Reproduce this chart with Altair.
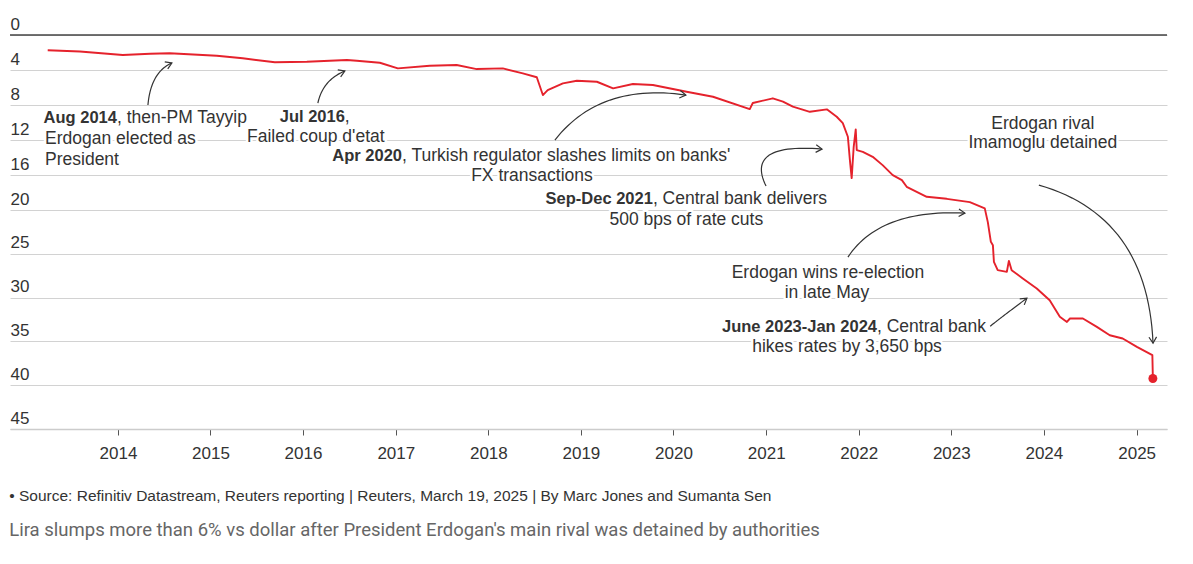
import math
import altair as alt
import pandas as pd

# ---------------- data (lira per US dollar) ----------------
dates = [
    "2013-03-30", "2013-08-04", "2014-01-20", "2014-05-08", "2014-07-24",
    "2015-01-26", "2015-05-08", "2015-09-12", "2016-01-16", "2016-06-22",
    "2016-07-31", "2016-10-30", "2017-01-09", "2017-05-15", "2017-08-29",
    "2017-11-16", "2018-02-27", "2018-05-17", "2018-07-11", "2018-08-04",
    "2018-08-23", "2018-10-22", "2018-12-16", "2019-03-05", "2019-05-08",
    "2019-07-25", "2019-10-12", "2020-02-22", "2020-06-05", "2020-10-28",
    "2020-11-09", "2021-01-27", "2021-03-08", "2021-04-16", "2021-06-22",
    "2021-08-28", "2021-10-06", "2021-10-30", "2021-11-19", "2021-11-27",
    "2021-12-04", "2021-12-12", "2021-12-20", "2021-12-24", "2022-01-17",
    "2022-02-25", "2022-04-05", "2022-05-15", "2022-06-20", "2022-07-09",
    "2022-09-26", "2022-12-14", "2023-03-15", "2023-05-13", "2023-05-25",
    "2023-06-06", "2023-06-14", "2023-06-18", "2023-07-03", "2023-08-08",
    "2023-08-16", "2023-08-27", "2023-10-10", "2023-12-04", "2024-01-24",
    "2024-03-04", "2024-04-01", "2024-04-13", "2024-06-03", "2024-07-28",
    "2024-09-17", "2024-11-07", "2025-01-02", "2025-03-04", "2025-03-06",
]
rates = [
    1.75, 1.89, 2.29, 2.14, 2.09,
    2.37, 2.66, 3.12, 3.05, 2.86,
    2.94, 3.17, 3.81, 3.51, 3.43,
    3.89, 3.81, 4.38, 4.83, 6.86,
    6.29, 5.52, 5.22, 5.34, 6.09,
    5.60, 5.71, 6.48, 7.05, 8.46,
    7.77, 7.23, 7.62, 8.19, 8.77,
    8.49, 9.34, 10.06, 11.62, 14.29,
    16.34, 12.77, 10.78, 13.14, 13.34,
    13.91, 14.86, 16.00, 16.57, 17.34,
    18.48, 18.71, 19.09, 19.80, 21.37,
    23.62, 24.00, 25.90, 26.86, 27.05,
    25.80, 26.86, 27.81, 28.95, 30.29,
    32.19, 32.77, 32.38, 32.38, 33.34,
    34.29, 34.66, 35.62, 36.57, 39.23,
]

y_ticks = [0, 4, 8, 12, 16, 20, 25, 30, 35, 40, 45]
x_years = list(range(2014, 2026))

source_text = ("• Source: Refinitiv Datastream, Reuters reporting | Reuters, "
               "March 19, 2025 | By Marc Jones and Sumanta Sen")
caption_text = ("Lira slumps more than 6% vs dollar after President Erdogan's "
                "main rival was detained by authorities")

# annotation anchors: (text, decimal year, value)
bold_right = [
    ("Aug 2014", 2013.989, 9.49),
    ("Jul 2016", 2016.451, 9.37),
    ("Apr 2020", 2017.067, 13.83),
    ("Sep-Dec 2021", 2019.778, 18.74),
    ("June 2023-Jan 2024", 2022.197, 33.37),
]
normal_left = [
    (", then-PM Tayyip", 2013.989, 9.49),
    ("Erdogan elected as", 2013.212, 11.89),
    ("President", 2013.212, 14.29),
    (",", 2016.451, 9.37),
    (", Turkish regulator slashes limits on banks'", 2017.067, 13.83),
    (", Central bank delivers", 2019.778, 18.74),
    (", Central bank", 2022.197, 33.37),
]
normal_center = [
    ("Failed coup d'etat", 2016.138, 11.66),
    ("FX transactions", 2018.471, 16.11),
    ("500 bps of rate cuts", 2020.139, 21.14),
    ("Erdogan wins re-election", 2021.667, 27.20),
    ("in late May", 2021.656, 29.49),
    ("hikes rates by 3,650 bps", 2021.873, 35.66),
    ("Erdogan rival", 2023.989, 10.17),
    ("Imamoglu detained", 2023.989, 12.34),
]
# curved arrows: start, control, end as (decimal year, value)
arrows = [
    ((2014.324, 8.00), (2014.356, 4.23), (2014.583, 3.20)),
    ((2016.160, 7.77), (2016.214, 5.14), (2016.451, 4.11)),
    ((2018.719, 12.00), (2019.205, 5.43), (2020.134, 6.86)),
    ((2020.998, 17.26), (2020.766, 12.29), (2021.603, 13.03)),
    ((2021.883, 25.37), (2022.223, 19.89), (2023.147, 20.34)),
    ((2023.420, 33.26), (2023.584, 31.89), (2023.817, 30.06)),
    ((2023.946, 17.14), (2025.118, 20.69), (2025.177, 35.20)),
]

# ---------------- layout ----------------
W, H = 1157, 394
X0, X1 = 2012.834, 2025.328
PX_YEAR = W / (X1 - X0)
PX_VAL = H / 45.0
FONT = "Liberation Sans"
RED = "#e5222c"
INK = "#333333"
ANN_SIZE = 17.5
BOLD_SIZE = 16.5


def dec_to_ts(y):
    yr = int(math.floor(y))
    a = pd.Timestamp(year=yr, month=1, day=1)
    b = pd.Timestamp(year=yr + 1, month=1, day=1)
    return a + (b - a) * (y - yr)


line_df = pd.DataFrame({"date": pd.to_datetime(dates), "value": rates})
last_df = line_df.tail(1)

x_scale = alt.Scale(domain=[dec_to_ts(X0).isoformat(), dec_to_ts(X1).isoformat()], nice=False)
y_scale = alt.Scale(domain=[0, 45], reverse=True, nice=False, zero=False)

x_axis = alt.Axis(
    values=[alt.DateTime(year=y, month=1, date=1) for y in x_years],
    format="%Y", title=None, grid=False, domain=True, domainColor="#cccccc",
    domainWidth=1.5, ticks=True, tickColor="#555555", tickSize=6, tickWidth=1,
    labelFont=FONT, labelFontSize=17, labelColor=INK, labelPadding=10,
    labelFlush=False,
)
y_axis = alt.Axis(
    values=y_ticks, title=None, grid=True, gridColor="#d2d2d2", gridWidth=1,
    domain=False, ticks=False, tickSize=0, labelAlign="left", labelPadding=0,
    labelBaseline="alphabetic", labelOffset=-6, labelFont=FONT, labelFontSize=17,
    labelColor=INK, labelFlush=False,
)

X = alt.X("date:T", scale=x_scale, axis=x_axis)
Y = alt.Y("value:Q", scale=y_scale, axis=y_axis)

line = alt.Chart(line_df).mark_line(color=RED, strokeWidth=1.9, strokeJoin="round").encode(x=X, y=Y)
dot = alt.Chart(last_df).mark_circle(color=RED, size=80, opacity=1).encode(x=X, y=Y)

zero_rule = alt.Chart(pd.DataFrame({"value": [0]})).mark_rule(
    color="#444444", strokeWidth=1.5).encode(y=Y)


def text_df(items):
    return pd.DataFrame({
        "text": [t for t, _, _ in items],
        "date": [dec_to_ts(x) for _, x, _ in items],
        "value": [v for _, _, v in items],
    })


text_layers = []
halo_layers = []
for items, align, weight, fsize in [
    (bold_right, "right", "bold", BOLD_SIZE),
    (normal_left, "left", "normal", ANN_SIZE),
    (normal_center, "center", "normal", ANN_SIZE),
]:
    df = text_df(items)
    common = dict(align=align, baseline="middle", font=FONT, fontSize=fsize, fontWeight=weight)
    halo_layers.append(
        alt.Chart(df).mark_text(fill="white", stroke="white", strokeWidth=5,
                                strokeJoin="round", **common)
        .encode(x=X, y=Y, text="text:N")
    )
    text_layers.append(
        alt.Chart(df).mark_text(fill=INK, **common)
        .encode(x=X, y=Y, text="text:N")
    )

# arrows
rows, heads = [], []
N = 30
for k, (p0, c, p1) in enumerate(arrows):
    for i in range(N + 1):
        t = i / N
        xx = (1 - t) ** 2 * p0[0] + 2 * (1 - t) * t * c[0] + t ** 2 * p1[0]
        vv = (1 - t) ** 2 * p0[1] + 2 * (1 - t) * t * c[1] + t ** 2 * p1[1]
        rows.append({"arrow": k, "i": i, "date": dec_to_ts(xx), "value": vv})
    dx = (p1[0] - c[0]) * PX_YEAR
    dy = (p1[1] - c[1]) * PX_VAL
    ang = math.degrees(math.atan2(dy, dx)) % 360
    heads.append({"date": dec_to_ts(p1[0]), "value": p1[1], "angle": ang})

arrow_df = pd.DataFrame(rows)
head_df = pd.DataFrame(heads)

arrow_lines = alt.Chart(arrow_df).mark_line(color=INK, strokeWidth=1.2).encode(
    x=X, y=Y, detail="arrow:N", order="i:Q")
arrow_heads = alt.Chart(head_df).mark_point(
    shape="M -1 -0.62 L 0 0 L -1 0.62", filled=False, stroke=INK,
    strokeWidth=1.2, size=150, opacity=1).encode(
    x=X, y=Y, angle=alt.Angle("angle:Q", scale=None))

chart = alt.layer(
    zero_rule, line, *halo_layers, dot, arrow_lines, arrow_heads, *text_layers
).properties(
    width=W, height=H,
    background="white",
    autosize=alt.AutoSizeParams(type="none"),
    padding={"left": 2, "top": 27, "right": 16, "bottom": 120},
    title=alt.TitleParams(
        text=source_text, subtitle=caption_text, orient="bottom", anchor="start",
        font=FONT, fontSize=15.5, fontWeight="normal", color=INK,
        subtitleFont="Roboto", subtitleFontSize=18.5, subtitleColor="#666666",
        offset=28, subtitlePadding=16,
    ),
).configure_view(stroke=None)

chart.save("out.html", embed_options={"renderer": "svg", "actions": False})
